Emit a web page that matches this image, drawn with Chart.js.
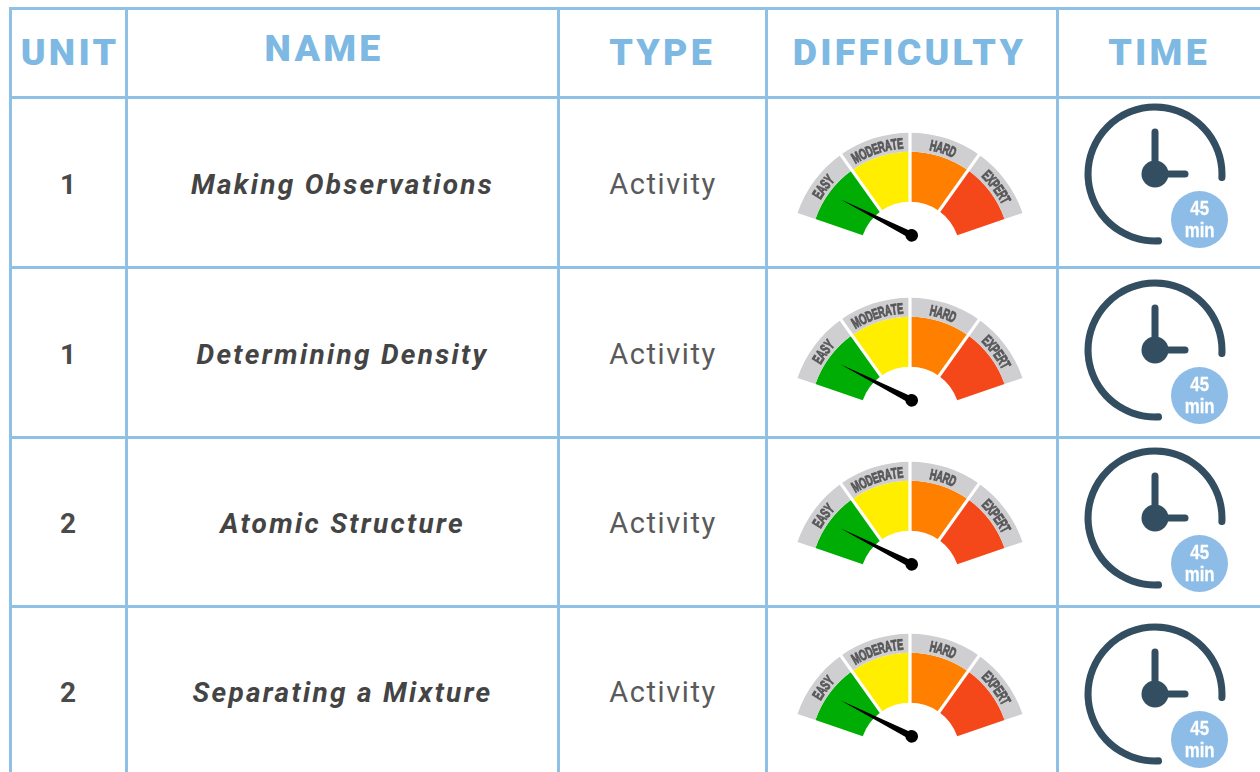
<!DOCTYPE html>
<html><head><meta charset="utf-8">
<script src="https://cdn.jsdelivr.net/npm/chart.js@4"></script>
<style>
html,body{margin:0;padding:0;background:#fff;overflow:hidden}
#page{position:relative;width:1260px;height:772px;overflow:hidden;font-family:Roboto,sans-serif}
.line{position:absolute;background:#8fc0e6}
.t{position:absolute;transform:translate(-50%,-50%);white-space:nowrap;line-height:1}
.h{font-weight:900;font-size:37.5px;letter-spacing:3.2px;color:#7db9e2}
.u{font-weight:700;font-size:28px;color:#4a4a4a}
.n{font-weight:700;font-style:italic;font-size:28px;letter-spacing:2.3px;color:#444}
.y{font-weight:400;font-size:29px;letter-spacing:1.6px;color:#5a5a5a}
canvas{position:absolute}
.badge{position:absolute;box-sizing:border-box;padding-bottom:2px;width:57px;height:57px;border-radius:50%;background:#8dbde6;color:#fff;font-family:"Liberation Sans",sans-serif;font-weight:700;font-size:21px;line-height:21.5px;text-align:center;display:flex;flex-direction:column;justify-content:center;align-items:center;-webkit-text-stroke:.3px #fff}
.badge span{display:block;transform:scaleX(.8)}
</style></head><body><div id="page"></div>
<script>
// ---- data ----
const headers = ["UNIT","NAME","TYPE","DIFFICULTY","TIME"];
const units = ["1","1","2","2"];
const names = ["Making Observations","Determining Density","Atomic Structure","Separating a Mixture"];
const types = ["Activity","Activity","Activity","Activity"];
const difficultyLevels = ["EASY","MODERATE","HARD","EXPERT"];
const levelSpans = [1,1,1,1];
const difficulty = [0.22,0.22,0.22,0.22];   // needle reading on the 0-4 level scale
const minutes = [45,45,45,45];
// ---- styling ----
const levelColors = ["#00ad04","#ffee00","#ff8000","#f4481a"];
const bandColor = "#cfcfd2";
const clockColor = "#344e61";
const vLines = [10,126.5,558,766,1057];
const hLines = [8,97,267,437,606];
const headerPos = [[70,53],[324,49],[662,53],[909.5,53],[1159,53]];
const rowTextY = [184.5,354.5,523.5,692.5];
const typeTextY = [184,354,523,692];
const gaugeCentreY = [252,417,581,753];
const clockCentreY = [173.5,349.5,517.5,693.5];

const page = document.getElementById('page');
function add(cls,txt,x,y){const d=document.createElement('div');d.className=cls;d.textContent=txt;d.style.left=x+'px';d.style.top=y+'px';page.appendChild(d);return d;}
vLines.forEach(x=>{const d=document.createElement('div');d.className='line';d.style.cssText=`left:${x-1.5}px;top:7px;width:3px;height:765px`;page.appendChild(d);});
hLines.forEach(y=>{const d=document.createElement('div');d.className='line';d.style.cssText=`left:9px;top:${y-1.5}px;width:1251px;height:3px`;page.appendChild(d);});
headers.forEach((h,i)=>add('t h',h,headerPos[i][0],headerPos[i][1]));
units.forEach((u,i)=>add('t u',u,68,rowTextY[i]));
names.forEach((n,i)=>add('t n',n,342.5,rowTextY[i]));
types.forEach((n,i)=>add('t y',n,663,typeTextY[i]-.5));

const ROT=-71, CIRC=142, NARROW=0.62;
const gaugePlugin={id:'gauge',afterDatasetsDraw(chart){
  const ctx=chart.ctx, arcs=chart.getDatasetMeta(1).data, band=chart.getDatasetMeta(0).data;
  const cx=arcs[0].x, cy=arcs[0].y, R=band[0].outerRadius;
  ctx.save();
  // white radial gaps between the levels
  ctx.strokeStyle='#fff';ctx.lineWidth=3.2;
  arcs.slice(0,-1).forEach(a=>{const c=Math.cos(a.endAngle),s=Math.sin(a.endAngle);
    ctx.beginPath();ctx.moveTo(cx+c*(arcs[0].innerRadius-2),cy+s*(arcs[0].innerRadius-2));ctx.lineTo(cx+c*(R+2),cy+s*(R+2));ctx.stroke();});
  // curved labels (condensed heavy lettering)
  ctx.fillStyle='#58585a';ctx.textAlign='center';ctx.textBaseline='middle';
  ctx.font='bold 15px "Liberation Sans",sans-serif';
  const rText=R-11.5;
  difficultyLevels.forEach((lab,i)=>{
    const mid=(band[i].startAngle+band[i].endAngle)/2;
    const widths=[...lab].map(ch=>ctx.measureText(ch).width*NARROW);
    const total=widths.reduce((a,b)=>a+b,0);
    let pos=-total/2;
    [...lab].forEach((ch,k)=>{
      const a=mid+(pos+widths[k]/2)/rText;
      ctx.save();ctx.translate(cx+Math.cos(a)*rText,cy+Math.sin(a)*rText);ctx.rotate(a+Math.PI/2);ctx.scale(NARROW,1);
      ctx.fillText(ch,0,0);ctx.strokeStyle='#58585a';ctx.lineWidth=.9;ctx.strokeText(ch,0,0);ctx.restore();
      pos+=widths[k];
    });
  });
  // needle
  const v=chart.options.plugins.gauge.value, total=levelSpans.reduce((a,b)=>a+b,0);
  const ang=(ROT+v/total*CIRC-90)*Math.PI/180;
  const hx=cx+1.7, hy=cy-16.3, len=80;
  ctx.translate(hx,hy);ctx.rotate(ang);
  ctx.fillStyle='#000';
  ctx.beginPath();ctx.moveTo(len,0);ctx.lineTo(0,-3.5);ctx.lineTo(0,3.5);ctx.closePath();ctx.fill();
  ctx.beginPath();ctx.arc(0,0,6.3,0,Math.PI*2);ctx.fill();
  ctx.restore();
}};

const clockPlugin={id:'clockHands',afterDatasetsDraw(chart){
  const ctx=chart.ctx,a=chart.getDatasetMeta(0).data[0],cx=a.x,cy=a.y;
  ctx.save();ctx.strokeStyle=clockColor;ctx.fillStyle=clockColor;ctx.lineCap='round';ctx.lineWidth=7;
  ctx.beginPath();ctx.moveTo(cx,cy);ctx.lineTo(cx,cy-42);ctx.moveTo(cx,cy);ctx.lineTo(cx+30,cy);ctx.stroke();
  ctx.beginPath();ctx.arc(cx,cy,13.5,0,Math.PI*2);ctx.fill();ctx.restore();
}};

function canvas(x,y,w,h){const c=document.createElement('canvas');c.width=w;c.height=h;c.style.cssText=`left:${x}px;top:${y}px;width:${w}px;height:${h}px`;page.appendChild(c);return c;}
const base={responsive:false,animation:false,events:[],devicePixelRatio:1};

units.forEach((_,i)=>{
  const H=170,W=288;
  new Chart(canvas(910-W/2,gaugeCentreY[i]-H/2-67.6,W,H),{type:'doughnut',
    data:{labels:difficultyLevels,datasets:[
      {data:levelSpans,backgroundColor:bandColor,borderWidth:0,weight:19},
      {data:levelSpans,backgroundColor:levelColors,borderWidth:0,weight:50}]},
    options:{...base,rotation:ROT,circumference:CIRC,radius:119,cutout:'42%',
      plugins:{legend:{display:false},tooltip:{enabled:false},gauge:{value:difficulty[i]}}},
    plugins:[gaugePlugin]});
  new Chart(canvas(1155-75,clockCentreY[i]-75,150,150),{type:'doughnut',
    data:{labels:['min'],datasets:[{data:[minutes[i]],backgroundColor:clockColor,borderWidth:0,borderRadius:3.5}]},
    options:{...base,rotation:174,circumference:282,radius:70.5,cutout:'90%',
      plugins:{legend:{display:false},tooltip:{enabled:false}}},
    plugins:[clockPlugin]});
  const b=document.createElement('div');b.className='badge';
  b.style.left='1171px';b.style.top=(clockCentreY[i]+17.5)+'px';
  const l1=document.createElement('span');l1.textContent=minutes[i];
  const l2=document.createElement('span');l2.textContent='min';
  b.append(l1,l2);page.appendChild(b);
});
</script></body></html>
